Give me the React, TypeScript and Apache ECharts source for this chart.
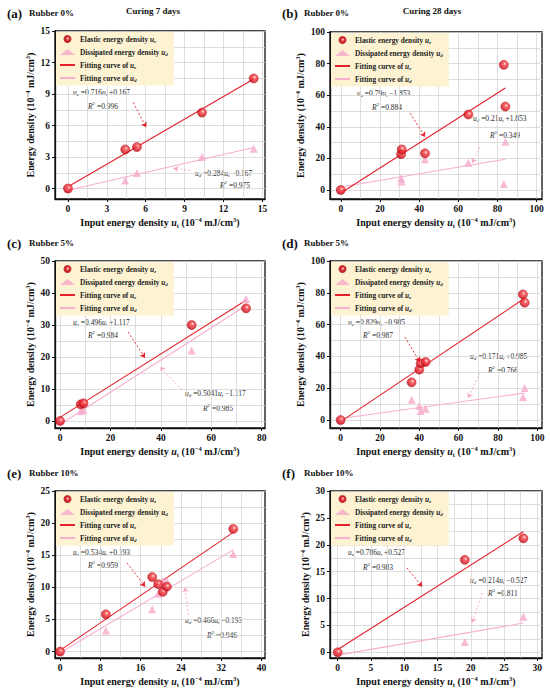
import React, { useEffect, useRef } from "react";
import * as echarts from "echarts";

const FONT = '"Liberation Serif","Times New Roman",serif';
const RED = "#e5202b";
const PINK = "#f6a9c9";
const PINK_LINE = "#f7afcf";
const GRID_COLOR = "#d6d6d6";

const panelLabels = ["(a)", "(b)", "(c)", "(d)", "(e)", "(f)"];
const rubberLabels = ["Rubber 0%", "Rubber 0%", "Rubber 5%", "Rubber 5%", "Rubber 10%", "Rubber 10%"];
const curingLabels = ["Curing 7 days", "Curing 28 days"];

// Input energy density u_t, elastic u_e, dissipated u_d (10^-4 mJ/cm^3)
const utA = [0, 4.42, 5.32, 10.34, 14.33];
const ueA = [0, 3.72, 3.95, 7.23, 10.48];
const udA = [0, 0.77, 1.48, 2.99, 3.79];

const utB = [0, 30.8, 31.1, 43.0, 65.1, 83.2, 84.0];
const ueB = [0, 22.7, 25.7, 23.2, 47.8, 79.2, 52.8];
const udB = [0, 7.4, 5.3, 19.4, 17.3, 3.8, 30.5];

const utC = [0, 8.2, 9.3, 52.2, 73.8];
const ueC = [0, 5.2, 5.5, 30.0, 35.2];
const udC = [0, 3.0, 3.4, 22.0, 38.1];

const utD = [0, 36.1, 40.0, 40.7, 43.2, 92.7, 93.6];
const ueD = [0, 23.7, 31.7, 35.6, 36.5, 79.0, 73.8];
const udD = [0, 12.8, 8.8, 5.7, 7.1, 14.3, 20.1];

const utE = [0, 9.1, 18.3, 19.5, 20.4, 21.2, 34.4];
const ueE = [0, 5.8, 11.6, 10.5, 9.3, 10.1, 19.1];
const udE = [0, 3.3, 6.6, 9.0, 11.0, 11.0, 15.2];

const utF = [0, 19.1, 27.9];
const ueF = [0, 17.2, 21.2];
const udF = [0, 1.9, 6.6];

const utAll = [utA, utB, utC, utD, utE, utF];
const ueAll = [ueA, ueB, ueC, ueD, ueE, ueF];
const udAll = [udA, udB, udC, udD, udE, udF];

// Linear fits shown on the chart
const slopeE = [0.716, 0.79, 0.496, 0.829, 0.534, 0.786];
const interE = [0.167, -1.853, 1.117, -0.985, 0.193, 0.527];
const r2E = ["0.996", "0.884", "0.984", "0.987", "0.959", "0.983"];
const slopeD = [0.284, 0.21, 0.5041, 0.171, 0.466, 0.214];
const interD = [-0.167, 1.853, -1.117, 0.985, -0.193, -0.527];
const r2D = ["0.975", "0.349", "0.985", "0.766", "0.946", "0.811"];

// Tick labels
const xTicks = [
  [0, 3, 6, 9, 12, 15],
  [0, 20, 40, 60, 80, 100],
  [0, 20, 40, 60, 80],
  [0, 20, 40, 60, 80, 100],
  [0, 8, 16, 24, 32, 40],
  [0, 5, 10, 15, 20, 25, 30],
];
const yTicks = [
  [0, 3, 6, 9, 12, 15],
  [0, 20, 40, 60, 80, 100],
  [0, 10, 20, 30, 40, 50],
  [0, 20, 40, 60, 80, 100],
  [0, 5, 10, 15, 20, 25],
  [0, 5, 10, 15, 20, 25, 30],
];
const xMin = [-1, -5.5, -2, -5.4, -1, -1.16];
const xMax = [15.2, 102.7, 81.3, 102.4, 40.7, 30.7];
const yMin = [-1, -5.7, -2.2, -5, -1, -1.06];
const yMax = [15, 100, 50, 100, 25, 30];

// Layout (pixels)
const gridLeft = [55, 330, 55, 330, 55, 330];
const gridTop = [31, 32, 261, 261, 491, 491];
const gridW = [210, 212, 210, 212, 210, 212];
const gridH = [168, 167, 167, 167, 167, 167];

const eqEPos = [[73, 92], [357, 93], [73, 322], [348, 322], [73, 552], [348, 552]];
const r2EPos = [[88, 106], [372, 107], [88, 335], [363, 335], [88, 565], [363, 567]];
const eqDPos = [[195, 173], [473, 118], [185, 393], [470, 356], [185, 620], [470, 580]];
const r2DPos = [[220, 185], [490, 135], [203, 408], [488, 370], [207, 635], [488, 593]];

// annotation arrows in data coordinates
const arrowE = [
  [[5.03, 8.2], [6.03, 5.83]],
  [[35.4, 48.6], [43.0, 33.5]],
  [[27.0, 27.8], [33.7, 19.7]],
  [[32.7, 52.2], [40.3, 36.5]],
  [[13.3, 13.8], [16.9, 10.1]],
  [[10.4, 15.7], [12.7, 12.2]],
];
const arrowD = [
  [[9.43, 1.72], [8.12, 1.91]],
  [[71.1, 27.2], [67.0, 17.1]],
  [[48.4, 9.7], [39.7, 16.9]],
  [[70.9, 29.6], [64.8, 13.8]],
  [[25.5, 5.7], [24.8, 10.0]],
  [[21.7, 11.0], [20.2, 5.5]],
];

const midSteps = (t: number[]) => {
  const out: number[] = [];
  for (let k = 0; k < t.length - 1; k++) out.push((t[k] + t[k + 1]) / 2);
  return out;
};

const fmtB = (b: number) => (b < 0 ? "\u2212" : "+") + Math.abs(b);

const legendText: Record<string, string> = {
  ue: "Elastic energy density {i|u}{s|e}",
  ud: "Dissipated energy density {i|u}{s|d}",
  fe: "Fitting curve of {i|u}{s|e}",
  fd: "Fitting curve of {i|u}{s|d}",
};

const sphere = {
  type: "radial",
  x: 0.6,
  y: 0.38,
  r: 0.62,
  colorStops: [
    { offset: 0, color: "#fff4f4" },
    { offset: 0.28, color: "#f5484b" },
    { offset: 0.75, color: "#dc1822" },
    { offset: 1, color: "#b50c16" },
  ],
};

export default function App() {
  const ref = useRef<HTMLDivElement>(null);
  useEffect(() => {
    if (!ref.current) return;
    const chart = echarts.init(ref.current, undefined, { renderer: "svg" });

    const grids: any[] = [];
    const xAxes: any[] = [];
    const yAxes: any[] = [];
    const series: any[] = [];
    const legends: any[] = [];
    const graphics: any[] = [];

    const nameRich = {
      i: { fontFamily: FONT, fontWeight: "bold", fontStyle: "italic", fontSize: 10, color: "#111" },
      s: { fontFamily: FONT, fontWeight: "bold", fontSize: 6.5, color: "#111", verticalAlign: "bottom", lineHeight: 13 },
      p: { fontFamily: FONT, fontWeight: "bold", fontSize: 6.5, color: "#111", verticalAlign: "top", lineHeight: 13 },
    };
    const eqRich = {
      i: { fontFamily: FONT, fontStyle: "italic", fontSize: 7.5, fill: "#2a2a2a", lineHeight: 10 },
      s: { fontFamily: FONT, fontStyle: "italic", fontSize: 5, fill: "#2a2a2a", verticalAlign: "bottom", lineHeight: 10 },
      p: { fontFamily: FONT, fontSize: 5, fill: "#2a2a2a", verticalAlign: "top", lineHeight: 10 },
      n: { fontFamily: FONT, fontSize: 7.5, fill: "#2a2a2a", lineHeight: 10 },
    };

    for (let i = 0; i < 6; i++) {
      grids.push({
        left: gridLeft[i],
        top: gridTop[i],
        width: gridW[i],
        height: gridH[i],
        show: true,
        borderColor: "#111",
        borderWidth: 1.3,
        backgroundColor: "rgba(0,0,0,0)",
      });
      const labelStyle = {
        fontFamily: FONT,
        fontWeight: "bold",
        fontSize: 9.5,
        color: "#111",
      };
      xAxes[i] = {
        type: "value",
        gridIndex: i,
        min: xMin[i],
        max: xMax[i],
        position: "bottom",
        axisLine: { show: true, onZero: false, lineStyle: { color: "#111", width: 1.3 } },
        axisTick: { show: true, length: 3, customValues: xTicks[i], lineStyle: { color: "#111", width: 1 } },
        axisLabel: { ...labelStyle, margin: 5, customValues: xTicks[i] },
        splitLine: { show: true, lineStyle: { color: GRID_COLOR, width: 0.8 } },
        name: "Input energy density {i|u}{s|t} (10{p|\u22124} mJ/cm{p|3})",
        nameLocation: "middle",
        nameGap: 17,
        nameTextStyle: { fontFamily: FONT, fontWeight: "bold", fontSize: 10, color: "#111", lineHeight: 13, rich: nameRich },
      };
      yAxes[i] = {
        type: "value",
        gridIndex: i,
        min: yMin[i],
        max: yMax[i],
        position: "left",
        axisLine: { show: true, onZero: false, lineStyle: { color: "#111", width: 1.3 } },
        axisTick: { show: true, length: 3, customValues: yTicks[i], lineStyle: { color: "#111", width: 1 } },
        axisLabel: { ...labelStyle, margin: 5, customValues: yTicks[i] },
        splitLine: { show: true, lineStyle: { color: GRID_COLOR, width: 0.8 } },
        name: "Energy density (10{p|\u22124} mJ/cm{p|3})",
        nameLocation: "middle",
        nameGap: 17,
        nameTextStyle: { fontFamily: FONT, fontWeight: "bold", fontSize: 10, color: "#111", lineHeight: 13, rich: nameRich },
      };
      // secondary axes carrying only the minor grid lines
      xAxes[6 + i] = {
        type: "value",
        gridIndex: i,
        min: xMin[i],
        max: xMax[i],
        position: "top",
        axisLine: { show: false },
        axisTick: { show: false, length: 0, customValues: midSteps(xTicks[i]) },
        axisLabel: { show: false, customValues: midSteps(xTicks[i]) },
        splitLine: { show: true, lineStyle: { color: GRID_COLOR, width: 0.8 } },
      };
      yAxes[6 + i] = {
        type: "value",
        gridIndex: i,
        min: yMin[i],
        max: yMax[i],
        position: "right",
        axisLine: { show: false },
        axisTick: { show: false, length: 0, customValues: midSteps(yTicks[i]) },
        axisLabel: { show: false, customValues: midSteps(yTicks[i]) },
        splitLine: { show: true, lineStyle: { color: GRID_COLOR, width: 0.8 } },
      };

      const ut = utAll[i];
      const xEnd = Math.max(...ut);
      series.push({
        name: "fd",
        type: "line",
        xAxisIndex: i,
        yAxisIndex: i,
        symbol: "none",
        silent: true,
        z: 2,
        lineStyle: { color: PINK_LINE, width: 1.1 },
        itemStyle: { color: PINK_LINE },
        data: [
          [0, interD[i]],
          [xEnd, slopeD[i] * xEnd + interD[i]],
        ],
        markLine: {
          silent: true,
          symbol: ["none", "arrow"],
          symbolSize: 5,
          label: { show: false },
          lineStyle: { color: PINK, type: [2, 2], width: 0.9 },
          data: [[{ coord: arrowD[i][0] }, { coord: arrowD[i][1] }]],
        },
      });
      series.push({
        name: "fe",
        type: "line",
        xAxisIndex: i,
        yAxisIndex: i,
        symbol: "none",
        silent: true,
        z: 2,
        lineStyle: { color: RED, width: 1.1 },
        itemStyle: { color: RED },
        data: [
          [0, interE[i]],
          [xEnd, slopeE[i] * xEnd + interE[i]],
        ],
        markLine: {
          silent: true,
          symbol: ["none", "arrow"],
          symbolSize: 5,
          label: { show: false },
          lineStyle: { color: RED, type: [2, 2], width: 0.9 },
          data: [[{ coord: arrowE[i][0] }, { coord: arrowE[i][1] }]],
        },
      });
      series.push({
        name: "ud",
        type: "scatter",
        xAxisIndex: i,
        yAxisIndex: i,
        symbol: "triangle",
        symbolSize: 8,
        z: 3,
        itemStyle: { color: PINK },
        data: ut.map((x, j) => [x, udAll[i][j]]),
      });
      series.push({
        name: "ue",
        type: "scatter",
        xAxisIndex: i,
        yAxisIndex: i,
        symbol: "circle",
        symbolSize: 9,
        z: 4,
        itemStyle: { color: sphere, borderColor: "#b80c16", borderWidth: 0.6 },
        data: ut.map((x, j) => [x, ueAll[i][j]]),
      });

      legends.push({
        left: gridLeft[i] + 1,
        top: gridTop[i] + 1,
        orient: "vertical",
        z: 6,
        itemGap: 5,
        itemWidth: 15,
        itemHeight: 6,
        padding: [3, 6, 3, 3],
        backgroundColor: "#fdf3d3",
        selectedMode: false,
        data: [
          { name: "ue" },
          { name: "ud" },
          { name: "fe", itemStyle: { opacity: 0 } },
          { name: "fd", itemStyle: { opacity: 0 } },
        ],
        formatter: (n: string) => legendText[n],
        textStyle: {
          fontFamily: FONT,
          fontWeight: "bold",
          fontSize: 7.3,
          color: "#222",
          rich: {
            i: { fontFamily: FONT, fontWeight: "bold", fontStyle: "italic", fontSize: 7.3, color: "#222" },
            s: { fontFamily: FONT, fontWeight: "bold", fontStyle: "italic", fontSize: 5, color: "#222", verticalAlign: "bottom", lineHeight: 9 },
          },
        },
      });

      // equations
      graphics.push({
        type: "text",
        x: eqEPos[i][0],
        y: eqEPos[i][1],
        silent: true,
        style: {
          text: `{i|u}{s|e}{n| =${slopeE[i]}}{i|u}{s|t}{n| ${fmtB(interE[i])}}`,
          rich: eqRich,
          verticalAlign: "middle",
        },
      });
      graphics.push({
        type: "text",
        x: r2EPos[i][0],
        y: r2EPos[i][1],
        silent: true,
        style: { text: `{i|R}{p|2}{n| =${r2E[i]}}`, rich: eqRich, verticalAlign: "middle" },
      });
      graphics.push({
        type: "text",
        x: eqDPos[i][0],
        y: eqDPos[i][1],
        silent: true,
        style: {
          text: `{i|u}{s|d}{n| =${slopeD[i]}}{i|u}{s|t}{n| ${fmtB(interD[i])}}`,
          rich: eqRich,
          verticalAlign: "middle",
        },
      });
      graphics.push({
        type: "text",
        x: r2DPos[i][0],
        y: r2DPos[i][1],
        silent: true,
        style: { text: `{i|R}{p|2}{n| =${r2D[i]}}`, rich: eqRich, verticalAlign: "middle" },
      });

      // panel labels
      const col = i % 2;
      const rowY = [13, 243, 473][Math.floor(i / 2)];
      const baseX = col === 0 ? 7 : 282;
      graphics.push({
        type: "text",
        x: baseX,
        y: rowY,
        silent: true,
        style: { text: panelLabels[i], fontFamily: FONT, fontWeight: "bold", fontSize: 13, fill: "#111", verticalAlign: "middle" },
      });
      graphics.push({
        type: "text",
        x: baseX + 22,
        y: rowY,
        silent: true,
        style: { text: rubberLabels[i], fontFamily: FONT, fontWeight: "bold", fontSize: 9, fill: "#111", verticalAlign: "middle" },
      });
      if (i < 2) {
        graphics.push({
          type: "text",
          x: col === 0 ? 153 : 432,
          y: 11,
          silent: true,
          style: { text: curingLabels[i], fontFamily: FONT, fontWeight: "bold", fontSize: 9, fill: "#111", align: "center", verticalAlign: "middle" },
        });
      }
    }

    chart.setOption({
      animation: false,
      backgroundColor: "#fff",
      grid: grids,
      xAxis: xAxes,
      yAxis: yAxes,
      legend: legends,
      series,
      graphic: graphics,
    });
    return () => chart.dispose();
  }, []);
  return <div ref={ref} style={{ position: "absolute", left: 0, top: 0, width: 550, height: 696 }} />;
}
